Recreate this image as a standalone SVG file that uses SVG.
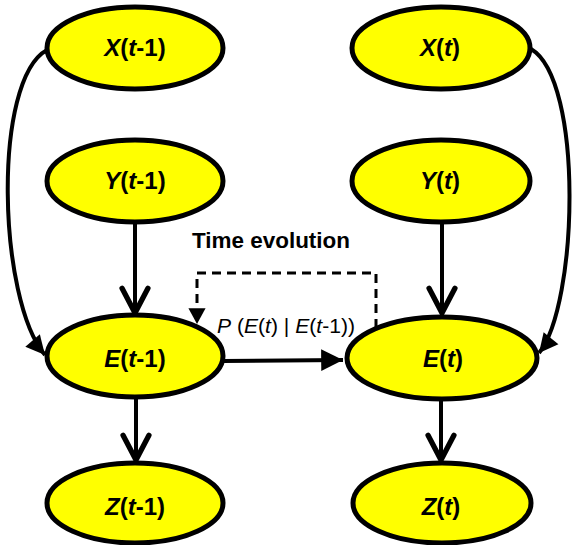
<svg xmlns="http://www.w3.org/2000/svg" width="576" height="545" viewBox="0 0 576 545">
<defs>
<style>
.node ellipse{fill:#FFFF00;stroke:#000;stroke-width:5}
.lbl{font-family:"Liberation Sans",Arial,sans-serif;font-weight:bold;font-size:24px;text-anchor:middle;fill:#000}
.it{font-style:italic}
.edge{fill:none;stroke:#000;stroke-width:4}
.dash{fill:none;stroke:#000;stroke-width:3;stroke-dasharray:9,6}
</style>
<marker id="chev" markerUnits="userSpaceOnUse" markerWidth="40" markerHeight="40" viewBox="-30 -15 34 30" refX="0" refY="0" orient="auto" overflow="visible">
<path d="M-21,-11 L0,0 L-21,11" fill="none" stroke="#000" stroke-width="4.5" stroke-linecap="round" stroke-linejoin="miter"/>
</marker>
<marker id="tri" markerUnits="userSpaceOnUse" markerWidth="30" markerHeight="30" viewBox="-20 -10 22 20" refX="0" refY="0" orient="auto" overflow="visible">
<path d="M-16,-8 L0,0 L-16,8 Z" fill="#000"/>
</marker>
<marker id="trim" markerUnits="userSpaceOnUse" markerWidth="30" markerHeight="30" viewBox="-20 -10 22 20" refX="0" refY="0" orient="auto" overflow="visible">
<path d="M-14,-7 L0,0 L-14,7 Z" fill="#000"/>
</marker>
<marker id="tris" markerUnits="userSpaceOnUse" markerWidth="20" markerHeight="20" viewBox="-12 -7 14 14" refX="0" refY="0" orient="auto" overflow="visible">
<path d="M-11,-6 L0,0 L-11,6 Z" fill="#000"/>
</marker>
</defs>

<g id="connectors">
<path class="edge" d="M135,223 L135,313" marker-end="url(#chev)"/>
<path class="edge" d="M442,223 L442,313" marker-end="url(#chev)"/>
<path class="edge" d="M136,398 L136,460" marker-end="url(#chev)"/>
<path class="edge" d="M441,399 L441,460" marker-end="url(#chev)"/>
<path class="edge" d="M223,361 L343,360" marker-end="url(#tri)"/>
<path class="edge" d="M47,50 C-8,80 -2,300 45,355" marker-end="url(#trim)"/>
<path class="edge" d="M531,49 C584,80 578,305 539,353" marker-end="url(#trim)"/>
<path class="dash" d="M376,328 L376,273 L197,273 L197,324" marker-end="url(#tris)"/>
</g>

<g id="X_t-1" class="node">
<ellipse cx="135" cy="48" rx="88" ry="41"/>
<text class="lbl" x="135" y="56"><tspan class="it">X</tspan>(<tspan class="it">t</tspan>-1)</text>
</g>
<g id="Y_t-1" class="node">
<ellipse cx="135" cy="181" rx="88" ry="41"/>
<text class="lbl" x="135" y="189"><tspan class="it">Y</tspan>(<tspan class="it">t</tspan>-1)</text>
</g>
<g id="E_t-1" class="node">
<ellipse cx="135" cy="356" rx="88" ry="41"/>
<text class="lbl" x="135" y="367"><tspan class="it">E</tspan>(<tspan class="it">t</tspan>-1)</text>
</g>
<g id="Z_t-1" class="node">
<ellipse cx="135" cy="503" rx="88" ry="40"/>
<text class="lbl" x="135" y="515"><tspan class="it">Z</tspan>(<tspan class="it">t</tspan>-1)</text>
</g>
<g id="X_t" class="node">
<ellipse cx="441" cy="48" rx="89" ry="41"/>
<text class="lbl" x="440" y="56"><tspan class="it">X</tspan>(<tspan class="it">t</tspan>)</text>
</g>
<g id="Y_t" class="node">
<ellipse cx="441" cy="181" rx="89" ry="41"/>
<text class="lbl" x="440" y="189"><tspan class="it">Y</tspan>(<tspan class="it">t</tspan>)</text>
</g>
<g id="E_t" class="node">
<ellipse cx="442" cy="358" rx="95" ry="41"/>
<text class="lbl" x="443" y="367"><tspan class="it">E</tspan>(<tspan class="it">t</tspan>)</text>
</g>
<g id="Z_t" class="node">
<ellipse cx="442" cy="503" rx="89" ry="40"/>
<text class="lbl" x="441" y="515"><tspan class="it">Z</tspan>(<tspan class="it">t</tspan>)</text>
</g>

<g id="labels">
<text x="192" y="248" font-family="Liberation Sans, Arial, sans-serif" font-weight="bold" font-size="22" textLength="158" lengthAdjust="spacingAndGlyphs">Time evolution</text>
<text x="217" y="333" font-family="Liberation Sans, Arial, sans-serif" font-size="20" textLength="138" lengthAdjust="spacingAndGlyphs"><tspan font-style="italic">P</tspan> (<tspan font-style="italic">E</tspan>(<tspan font-style="italic">t</tspan>) | <tspan font-style="italic">E</tspan>(<tspan font-style="italic">t</tspan>-1))</text>
</g>
</svg>
